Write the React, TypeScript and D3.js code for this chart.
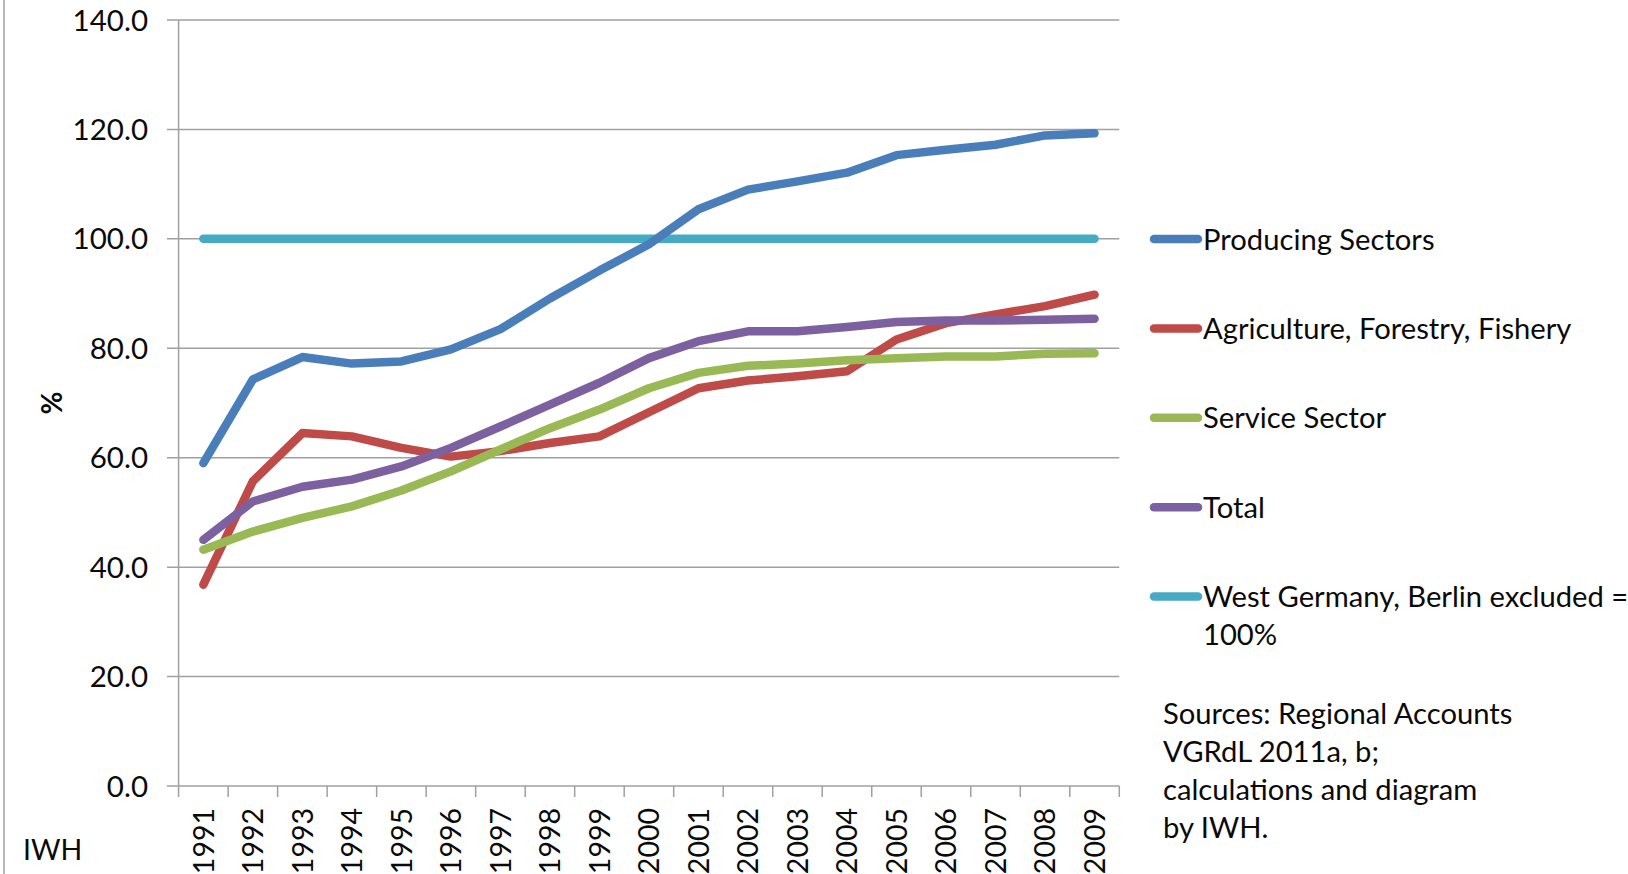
import * as d3 from "d3";

const W = 1628;
const H = 874;

const years = [
  "1991", "1992", "1993", "1994", "1995", "1996", "1997", "1998", "1999", "2000",
  "2001", "2002", "2003", "2004", "2005", "2006", "2007", "2008", "2009",
];

const producing = [
  59.0, 74.3, 78.4, 77.2, 77.6, 79.8, 83.5, 89.1, 94.2, 99.0,
  105.4, 109.0, 110.5, 112.1, 115.3, 116.3, 117.2, 118.9, 119.3,
];
const agriculture = [
  36.8, 55.7, 64.5, 63.9, 61.8, 60.2, 61.2, 62.7, 63.9, 68.3,
  72.7, 74.1, 74.9, 75.8, 81.6, 84.6, 86.2, 87.7, 89.8,
];
const services = [
  43.2, 46.5, 49.0, 51.1, 54.0, 57.5, 61.5, 65.4, 68.8, 72.7,
  75.5, 76.8, 77.2, 77.8, 78.2, 78.5, 78.5, 79.0, 79.1,
];
const total = [
  45.0, 52.0, 54.7, 56.0, 58.4, 61.8, 65.7, 69.7, 73.7, 78.2,
  81.3, 83.1, 83.1, 83.9, 84.8, 85.1, 85.1, 85.2, 85.4,
];
const westGermany = [
  100, 100, 100, 100, 100, 100, 100, 100, 100, 100,
  100, 100, 100, 100, 100, 100, 100, 100, 100,
];

const yTicks = [0, 20, 40, 60, 80, 100, 120, 140];

const seriesNames = [
  "Producing Sectors",
  "Agriculture, Forestry, Fishery",
  "Service Sector",
  "Total",
  "West Germany, Berlin excluded =",
];
const seriesColors = ["#4a7ebb", "#be4b48", "#98b954", "#7d60a0", "#46aac5"];
const seriesValues = [producing, agriculture, services, total, westGermany];
// draw order: cyan reference line underneath the data lines
const drawOrder = [4, 0, 1, 3, 2];

const sourceLines = [
  "Sources: Regional Accounts",
  "VGRdL 2011a, b;",
  "calculations and diagram",
  "by IWH.",
];

const FONT = "Lato, 'Open Sans', sans-serif";
const GRID = "#a0a0a0";
const INK = "#0a0a0a";

export default function App() {
  const x = d3.scaleBand().domain(years).range([178.6, 1119.3]);
  const y = d3.scaleLinear().domain([0, 140]).range([786, 20]);

  const line = d3
    .line<number>()
    .x((_, i) => (x(years[i]) ?? 0) + x.bandwidth() / 2)
    .y((d) => y(d));

  const x0 = 178.6;
  const x1 = 1119.3;
  const legendY = (i: number) => 239 + i * 89.4;

  return (
    <svg
      width={W}
      height={H}
      style={{ position: "absolute", left: 0, top: 0, display: "block", background: "#fff" }}
      fontFamily={FONT}
    >
      <rect x={0} y={0} width={W} height={H} fill="#fff" />
      <line x1={4} x2={4} y1={0} y2={H} stroke={GRID} strokeWidth={1.5} />

      {/* gridlines and y ticks */}
      {yTicks.map((t) => (
        <g key={t}>
          <line x1={167} x2={x1} y1={y(t)} y2={y(t)} stroke={GRID} strokeWidth={1.5} />
          <text x={148} y={y(t)} dy="0.36em" textAnchor="end" fontSize={29.5} fill={INK}>
            {d3.format(".1f")(t)}
          </text>
        </g>
      ))}
      <line x1={x0} x2={x0} y1={y(140)} y2={y(0)} stroke={GRID} strokeWidth={1.5} />

      {/* x ticks */}
      {years.map((yr) => (
        <line
          key={yr}
          x1={x(yr) ?? 0}
          x2={x(yr) ?? 0}
          y1={y(0)}
          y2={y(0) + 11}
          stroke={GRID}
          strokeWidth={1.5}
        />
      ))}
      <line x1={x1} x2={x1} y1={y(0)} y2={y(0) + 11} stroke={GRID} strokeWidth={1.5} />
      {years.map((yr) => {
        const cx = (x(yr) ?? 0) + x.bandwidth() / 2;
        return (
          <text
            key={yr}
            transform={`translate(${cx},808) rotate(-90)`}
            dy="0.36em"
            textAnchor="end"
            fontSize={28.5}
            fill={INK}
          >
            {yr}
          </text>
        );
      })}

      <text
        transform="translate(52,403) rotate(-90)"
        dy="0.36em"
        textAnchor="middle"
        fontSize={28}
        fontWeight="bold"
        fill={INK}
      >
        %
      </text>
      <text x={23} y={860} fontSize={28.5} fill={INK}>
        IWH
      </text>

      {/* series */}
      {drawOrder.map((i) => (
        <path
          key={seriesNames[i]}
          d={line(seriesValues[i]) ?? ""}
          fill="none"
          stroke={seriesColors[i]}
          strokeWidth={8.5}
          strokeLinecap="round"
          strokeLinejoin="round"
        />
      ))}

      {/* legend */}
      {seriesNames.map((name, i) => (
        <g key={name}>
          <line
            x1={1154}
            x2={1198}
            y1={legendY(i)}
            y2={legendY(i)}
            stroke={seriesColors[i]}
            strokeWidth={8.5}
            strokeLinecap="round"
          />
          <text x={1203} y={legendY(i)} dy="0.36em" fontSize={29.2} fill={INK}>
            {name}
          </text>
        </g>
      ))}
      <text x={1203} y={legendY(4) + 38} dy="0.36em" fontSize={29.2} fill={INK}>
        100%
      </text>

      {sourceLines.map((s, i) => (
        <text key={s} x={1163} y={724 + i * 38} fontSize={29.2} fill={INK}>
          {s}
        </text>
      ))}
    </svg>
  );
}
